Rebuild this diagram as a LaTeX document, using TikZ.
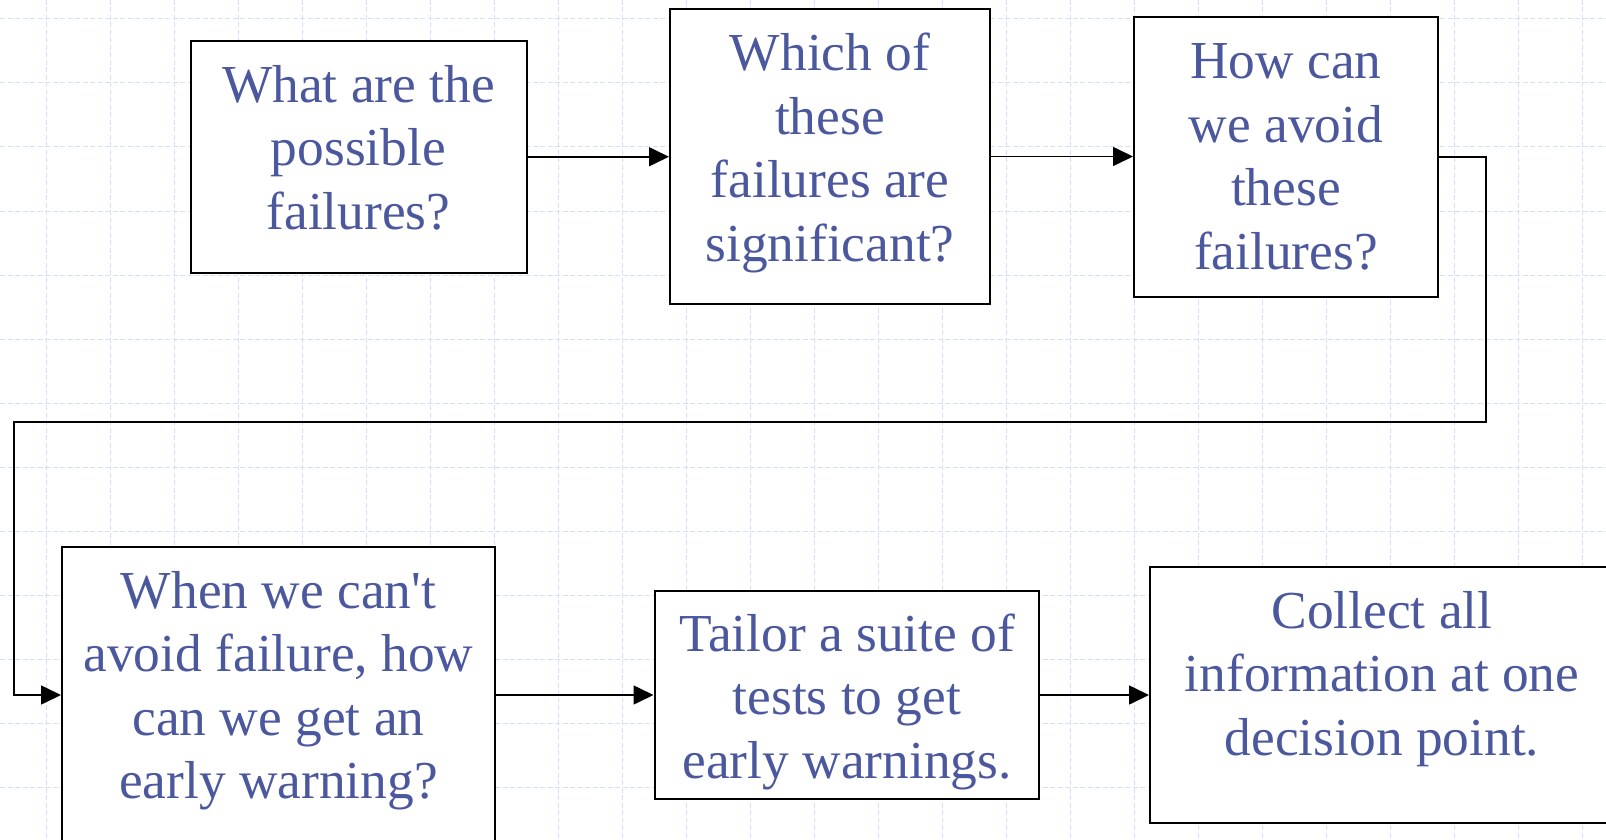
\documentclass[tikz,border=0pt]{standalone}
\usepackage{fontspec}
\setmainfont{Liberation Serif}[Ligatures=TeXOff]
\usetikzlibrary{arrows.meta}
\definecolor{txtblue}{RGB}{76,88,158}
\definecolor{gridblue}{RGB}{215,223,250}
\tikzset{
  box/.style={draw=black, line width=2pt, fill=white, inner sep=0pt},
  conn/.style={draw=black, line width=1.6pt},
  arr/.style={conn, -{Triangle[length=20pt,width=19pt]}},
  lbl/.style={text=txtblue, align=center, anchor=base, inner sep=0pt,
    font=\fontsize{53.4}{63.5}\selectfont},
  gridline/.style={draw=gridblue, line width=1pt, dash pattern=on 5pt off 2.5pt}
}
\begin{document}
\begin{tikzpicture}[x=1pt,y=-1pt]
\useasboundingbox (0,0) rectangle (1606,840);
\fill[white] (0,0) rectangle (1606,840);
\foreach \gx in {46,110,...,1606} \draw[gridline] (\gx,0) -- (\gx,840);
\foreach \gy in {19,83,...,840} \draw[gridline] (0,\gy) -- (1606,\gy);
% boxes
\node[box, minimum width=336pt, minimum height=231.5pt] (b1) at (358.5,156.75) {};
\node[box, minimum width=320pt, minimum height=295pt] (b2) at (830,156.5) {};
\node[box, minimum width=304pt, minimum height=279.6pt] (b3) at (1286,157.2) {};
\node[box, minimum width=432.5pt, minimum height=296pt] (b4) at (278.25,695) {};
\node[box, minimum width=384pt, minimum height=208pt] (b5) at (846.5,695) {};
\node[box, minimum width=470pt, minimum height=256pt] (b6) at (1385,695) {};
% texts (anchored at the baseline of the last line)
\node[lbl] (t1) at (358.5,229.4) {What are the\\possible\\failures?};
\node[lbl] (t2) at (830,261) {Which of\\these\\failures are\\significant?};
\node[lbl] (t3) at (1286,269) {How can\\we avoid\\these\\failures?};
\node[lbl] (t4) at (278.5,798.5) {When we can't\\avoid failure, how\\can we get an\\early warning?};
\node[lbl] (t5) at (847,778) {Tailor a suite of\\tests to get\\early warnings.};
\node[lbl] (t6) at (1382,755) {Collect all\\information at one\\decision point.};
% connectors
\coordinate (k1) at (1486,422);
\coordinate (k2) at (14,422);
\draw[arr] (b1.east) -- (b1.east -| b2.west);
\draw[arr] (b2.east) -- (b2.east -| b3.west);
\draw[arr] (b3.east) -| (k1) -- (k2) |- (b4.west);
\draw[arr] (b4.east) -- (b4.east -| b5.west);
\draw[arr] (b5.east) -- (b5.east -| b6.west);
\end{tikzpicture}
\end{document}
